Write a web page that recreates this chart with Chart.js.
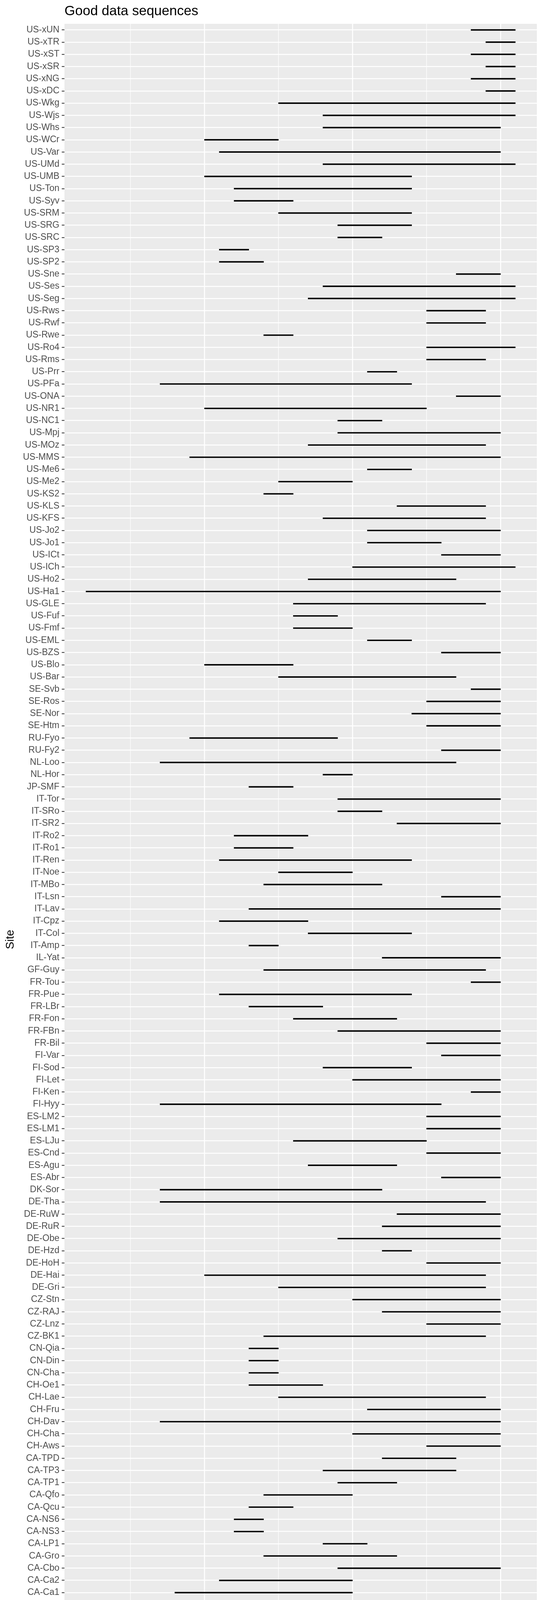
<!DOCTYPE html>
<html>
<head>
<meta charset="utf-8">
<title>Good data sequences</title>
<script src="https://cdn.jsdelivr.net/npm/chart.js@4.4.1/dist/chart.umd.min.js"></script>
<style>
  html, body { margin: 0; padding: 0; background: #fff; }
  #wrap { width: 1400px; height: 4800px; position: relative; }
</style>
</head>
<body>
<div id="wrap"><canvas id="seqChart"></canvas></div>
<script>
// sites, top to bottom as in the figure
const sites = [
  'US-xUN', 'US-xTR', 'US-xST', 'US-xSR', 'US-xNG', 'US-xDC', 'US-Wkg', 'US-Wjs', 'US-Whs', 'US-WCr',
  'US-Var', 'US-UMd', 'US-UMB', 'US-Ton', 'US-Syv', 'US-SRM', 'US-SRG', 'US-SRC', 'US-SP3', 'US-SP2',
  'US-Sne', 'US-Ses', 'US-Seg', 'US-Rws', 'US-Rwf', 'US-Rwe', 'US-Ro4', 'US-Rms', 'US-Prr', 'US-PFa',
  'US-ONA', 'US-NR1', 'US-NC1', 'US-Mpj', 'US-MOz', 'US-MMS', 'US-Me6', 'US-Me2', 'US-KS2', 'US-KLS',
  'US-KFS', 'US-Jo2', 'US-Jo1', 'US-ICt', 'US-ICh', 'US-Ho2', 'US-Ha1', 'US-GLE', 'US-Fuf', 'US-Fmf',
  'US-EML', 'US-BZS', 'US-Blo', 'US-Bar', 'SE-Svb', 'SE-Ros', 'SE-Nor', 'SE-Htm', 'RU-Fyo', 'RU-Fy2',
  'NL-Loo', 'NL-Hor', 'JP-SMF', 'IT-Tor', 'IT-SRo', 'IT-SR2', 'IT-Ro2', 'IT-Ro1', 'IT-Ren', 'IT-Noe',
  'IT-MBo', 'IT-Lsn', 'IT-Lav', 'IT-Cpz', 'IT-Col', 'IT-Amp', 'IL-Yat', 'GF-Guy', 'FR-Tou', 'FR-Pue',
  'FR-LBr', 'FR-Fon', 'FR-FBn', 'FR-Bil', 'FI-Var', 'FI-Sod', 'FI-Let', 'FI-Ken', 'FI-Hyy', 'ES-LM2',
  'ES-LM1', 'ES-LJu', 'ES-Cnd', 'ES-Agu', 'ES-Abr', 'DK-Sor', 'DE-Tha', 'DE-RuW', 'DE-RuR', 'DE-Obe',
  'DE-Hzd', 'DE-HoH', 'DE-Hai', 'DE-Gri', 'CZ-Stn', 'CZ-RAJ', 'CZ-Lnz', 'CZ-BK1', 'CN-Qia', 'CN-Din',
  'CN-Cha', 'CH-Oe1', 'CH-Lae', 'CH-Fru', 'CH-Dav', 'CH-Cha', 'CH-Aws', 'CA-TPD', 'CA-TP3', 'CA-TP1',
  'CA-Qfo', 'CA-Qcu', 'CA-NS6', 'CA-NS3', 'CA-LP1', 'CA-Gro', 'CA-Cbo', 'CA-Ca2', 'CA-Ca1', 'BE-Vie',
  'BE-Maa', 'BE-Dor', 'BE-Bra', 'AU-Ync', 'AU-Tum', 'AU-Stp', 'AU-Sam', 'AU-Rob', 'AU-Rig', 'AU-How',
  'AU-GWW', 'AU-Gin', 'AU-Dry', 'AU-DaS', 'AU-Cum', 'AU-Ctr', 'AU-Cpr', 'AU-Cow', 'AU-ASM', 'AT-Neu',
];

const startYear = [
  2018, 2019, 2018, 2019, 2018, 2019, 2005, 2008, 2008, 2000,
  2001, 2008, 2000, 2002, 2002, 2005, 2009, 2009, 2001, 2001,
  2017, 2008, 2007, 2015, 2015, 2004, 2015, 2015, 2011, 1997,
  2017, 2000, 2009, 2009, 2007, 1999, 2011, 2005, 2004, 2013,
  2008, 2011, 2011, 2016, 2010, 2007, 1992, 2006, 2006, 2006,
  2011, 2016, 2000, 2005, 2018, 2015, 2014, 2015, 1999, 2016,
  1997, 2008, 2003, 2009, 2009, 2013, 2002, 2002, 2001, 2005,
  2004, 2016, 2003, 2001, 2007, 2003, 2012, 2004, 2018, 2001,
  2003, 2006, 2009, 2015, 2016, 2008, 2010, 2018, 1997, 2015,
  2015, 2006, 2015, 2007, 2016, 1997, 1997, 2013, 2012, 2009,
  2012, 2015, 2000, 2005, 2010, 2012, 2015, 2004, 2003, 2003,
  2003, 2003, 2005, 2011, 1997, 2010, 2015, 2012, 2008, 2009,
  2004, 2003, 2002, 2002, 2008, 2004, 2009, 2001, 1998, 1997,
  2016, 2011, 2010, 2012, 2011, 2011, 2014, 2014, 2014, 2009,
  2013, 2012, 2012, 2012, 2013, 2010, 2015, 2010, 2012, 2002,
];

const endYear = [
  2021, 2021, 2021, 2021, 2021, 2021, 2021, 2021, 2020, 2005,
  2020, 2021, 2014, 2014, 2006, 2014, 2014, 2012, 2003, 2004,
  2020, 2021, 2021, 2019, 2019, 2006, 2021, 2019, 2013, 2014,
  2020, 2015, 2012, 2020, 2019, 2020, 2014, 2010, 2006, 2019,
  2019, 2020, 2016, 2020, 2021, 2017, 2020, 2019, 2009, 2010,
  2014, 2020, 2006, 2017, 2020, 2020, 2020, 2020, 2009, 2020,
  2017, 2010, 2006, 2020, 2012, 2020, 2007, 2006, 2014, 2010,
  2012, 2020, 2020, 2007, 2014, 2005, 2020, 2019, 2020, 2014,
  2008, 2013, 2020, 2020, 2020, 2014, 2020, 2020, 2016, 2020,
  2020, 2015, 2020, 2013, 2020, 2012, 2019, 2020, 2020, 2020,
  2014, 2020, 2019, 2019, 2020, 2020, 2020, 2019, 2005, 2005,
  2005, 2008, 2019, 2020, 2020, 2020, 2020, 2017, 2017, 2013,
  2010, 2006, 2004, 2004, 2011, 2013, 2020, 2010, 2010, 2020,
  2020, 2020, 2020, 2016, 2017, 2016, 2017, 2017, 2016, 2017,
  2017, 2017, 2014, 2017, 2018, 2012, 2017, 2014, 2016, 2012,
];

const xMin = 1990.55;
const xMax = 2022.45;
const yearStep = 5;

const FONT = "'Liberation Sans', Arial, Helvetica, sans-serif";
Chart.defaults.font.family = FONT;

// grey ggplot-style panel behind the grid
const panelBg = {
  id: 'panelBg',
  beforeDraw(chart) {
    const { ctx, chartArea: a } = chart;
    ctx.save();
    ctx.fillStyle = '#EBEBEB';
    ctx.fillRect(a.left, a.top, a.right - a.left, a.bottom - a.top);
    ctx.restore();
  },
};

const isMajor = v => v % 10 === 0;

new Chart(document.getElementById('seqChart'), {
  type: 'bar',
  data: {
    labels: sites,
    datasets: [{
      data: sites.map((_, i) => [startYear[i], endYear[i]]),
      backgroundColor: '#000000',
      borderWidth: 0,
      borderSkipped: false,
      barThickness: 3,
    }],
  },
  plugins: [panelBg],
  options: {
    indexAxis: 'y',
    responsive: true,
    maintainAspectRatio: false,
    devicePixelRatio: 1,
    animation: false,
    layout: { padding: { left: 0, right: 26, top: 0, bottom: 0 } },
    plugins: {
      legend: { display: false },
      tooltip: { enabled: false },
      title: {
        display: true,
        text: 'Good data sequences',
        align: 'start',
        fullSize: false,
        color: '#000000',
        font: { size: 35, weight: 'normal', family: FONT },
        padding: { top: 8, bottom: 11 },
      },
    },
    scales: {
      x: {
        type: 'linear',
        min: xMin,
        max: xMax,
        afterFit(scale) { scale.height = 51; },
        border: { display: false },
        grid: {
          color: '#FFFFFF',
          lineWidth: ctx => (ctx.tick && isMajor(ctx.tick.value) ? 2.6 : 1.3),
          tickColor: ctx => (ctx.tick && isMajor(ctx.tick.value) ? '#333333' : 'rgba(0,0,0,0)'),
          tickLength: 7,
          tickWidth: 2,
        },
        ticks: {
          stepSize: yearStep,
          includeBounds: false,
          autoSkip: false,
          maxRotation: 0,
          padding: 3,
          color: '#4D4D4D',
          font: { size: 23 },
          callback: v => (isMajor(v) ? String(v) : ''),
        },
      },
      y: {
        type: 'category',
        offset: true,
        afterFit(scale) { scale.width = 165; },
        border: { display: false },
        grid: {
          offset: false,
          color: '#FFFFFF',
          lineWidth: 2.6,
          tickColor: '#333333',
          tickLength: 7,
          tickWidth: 2,
        },
        ticks: {
          autoSkip: false,
          padding: 6,
          color: '#4D4D4D',
          font: { size: 23 },
        },
        title: {
          display: true,
          text: 'Site',
          color: '#000000',
          font: { size: 29 },
          padding: { top: 10, bottom: 0 },
        },
      },
    },
  },
});
</script>
</body>
</html>
